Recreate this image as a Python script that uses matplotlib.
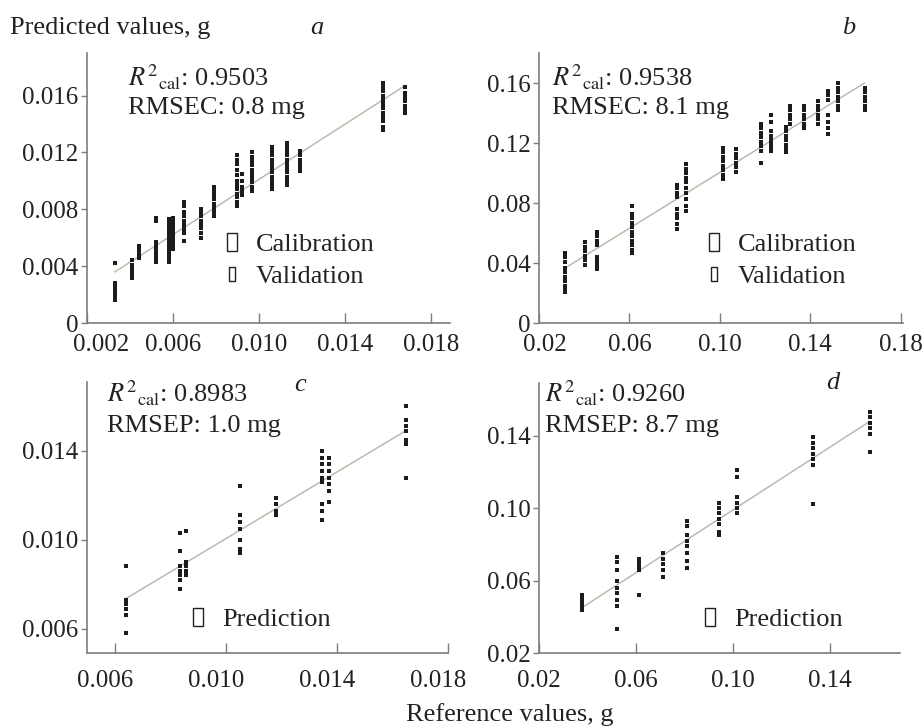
import numpy as np
import matplotlib
matplotlib.use('Agg')
import matplotlib.pyplot as plt
import matplotlib.transforms as mtransforms
from matplotlib.lines import Line2D

plt.rcParams['font.family'] = 'Liberation Serif'
plt.rcParams['mathtext.fontset'] = 'stix'

# ---- panel a: calibration/validation, small range (g)
a_ref = [0.0033, 0.0041, 0.0044, 0.0052, 0.0058, 0.0060, 0.0065, 0.0073,
         0.0079, 0.0090, 0.0092, 0.0097, 0.0106, 0.0113, 0.0119, 0.0158, 0.0168]
a_pred = [
    [0.0042, 0.0028, 0.0026, 0.0024, 0.0022, 0.0020, 0.0018, 0.0016],
    [0.0044, 0.0041, 0.0038, 0.0036, 0.0034, 0.0032],
    [0.0054, 0.0052, 0.0050, 0.0048, 0.0046],
    [0.0074, 0.0072, 0.0057, 0.0055, 0.0053, 0.0051, 0.0049, 0.0047, 0.0045, 0.0043],
    [0.0073, 0.0071, 0.0069, 0.0067, 0.0065, 0.0063, 0.0061, 0.0059, 0.0057,
     0.0055, 0.0053, 0.0051, 0.0049, 0.0047, 0.0045, 0.0043],
    [0.0074, 0.0072, 0.0070, 0.0068, 0.0066, 0.0064, 0.0062, 0.0060, 0.0058,
     0.0056, 0.0054, 0.0052],
    [0.0085, 0.0082, 0.0078, 0.0075, 0.0072, 0.0069, 0.0066, 0.0063, 0.0058],
    [0.0080, 0.0078, 0.0075, 0.0072, 0.0070, 0.0067, 0.0063, 0.0060],
    [0.0096, 0.0093, 0.0090, 0.0087, 0.0084, 0.0081, 0.0078, 0.0075],
    [0.0118, 0.0115, 0.0112, 0.0108, 0.0104, 0.0100, 0.0097, 0.0094, 0.0091,
     0.0089, 0.0085, 0.0082],
    [0.0105, 0.0100, 0.0096, 0.0093, 0.0090],
    [0.0120, 0.0117, 0.0114, 0.0111, 0.0108, 0.0105, 0.0102, 0.0099, 0.0096, 0.0093],
    [0.0124, 0.0121, 0.0118, 0.0115, 0.0112, 0.0109, 0.0106, 0.0103, 0.0100,
     0.0097, 0.0094],
    [0.0127, 0.0124, 0.0121, 0.0118, 0.0115, 0.0112, 0.0109, 0.0106, 0.0103,
     0.0100, 0.0097],
    [0.0121, 0.0118, 0.0115, 0.0112, 0.0109, 0.0107],
    [0.0169, 0.0166, 0.0163, 0.0160, 0.0157, 0.0154, 0.0151, 0.0148, 0.0145,
     0.0142, 0.0138, 0.0136],
    [0.0166, 0.0162, 0.0159, 0.0156, 0.0153, 0.0150, 0.0148],
]
a_fit_x = [0.0033, 0.0168]
a_fit_y = [0.0036, 0.0167]

# ---- panel b: calibration/validation, large range (g)
b_ref = [0.0316, 0.0404, 0.0458, 0.0613, 0.0809, 0.0849, 0.1013, 0.107, 0.118,
         0.1227, 0.1293, 0.131, 0.1373, 0.1436, 0.148, 0.1524, 0.164]
b_pred = [
    [0.047, 0.044, 0.041, 0.037, 0.034, 0.031, 0.028, 0.025, 0.023, 0.021],
    [0.054, 0.051, 0.048, 0.045, 0.042, 0.039],
    [0.061, 0.058, 0.055, 0.052, 0.044, 0.042, 0.040, 0.038, 0.036],
    [0.078, 0.073, 0.070, 0.067, 0.064, 0.061, 0.058, 0.055, 0.052, 0.049, 0.047],
    [0.092, 0.090, 0.087, 0.084, 0.076, 0.073, 0.070, 0.066, 0.063],
    [0.106, 0.103, 0.100, 0.097, 0.094, 0.090, 0.087, 0.083, 0.078, 0.075],
    [0.117, 0.114, 0.111, 0.108, 0.105, 0.102, 0.099, 0.096],
    [0.116, 0.113, 0.110, 0.107, 0.104, 0.101],
    [0.133, 0.130, 0.127, 0.124, 0.121, 0.118, 0.115, 0.107],
    [0.139, 0.134, 0.128, 0.125, 0.123, 0.121, 0.119, 0.117, 0.115],
    [0.131, 0.128, 0.125, 0.122, 0.119, 0.116, 0.114],
    [0.145, 0.142, 0.139, 0.136, 0.133],
    [0.145, 0.142, 0.139, 0.136, 0.133, 0.130],
    [0.148, 0.145, 0.142, 0.139, 0.136, 0.133],
    [0.155, 0.152, 0.149, 0.139, 0.134, 0.130, 0.126],
    [0.160, 0.157, 0.154, 0.151, 0.148, 0.145, 0.142],
    [0.157, 0.154, 0.151, 0.148, 0.145, 0.142],
]
b_fit_x = [0.0316, 0.164]
b_fit_y = [0.0367, 0.160]

# ---- panel c: prediction, small range
c_ref = [0.0064, 0.00836, 0.00857, 0.0105, 0.0118, 0.01346, 0.0137, 0.01647]
c_pred = [
    [0.0088, 0.0073, 0.0071, 0.0069, 0.0066, 0.0058],
    [0.0103, 0.0095, 0.0088, 0.0086, 0.0084, 0.0082, 0.0078],
    [0.0104, 0.0090, 0.0088, 0.0086, 0.0084],
    [0.0124, 0.0111, 0.0108, 0.0105, 0.0100, 0.0096, 0.0094],
    [0.0119, 0.0116, 0.0113, 0.0111],
    [0.0140, 0.0137, 0.0134, 0.0131, 0.0128, 0.0126, 0.0116, 0.0113, 0.0109],
    [0.0137, 0.0134, 0.0131, 0.0128, 0.0125, 0.0122, 0.0117],
    [0.0160, 0.0154, 0.0151, 0.0149, 0.0145, 0.0143, 0.0128],
]
c_fit_x = [0.0064, 0.01647]
c_fit_y = [0.00735, 0.0149]

# ---- panel d: prediction, large range
d_ref = [0.0377, 0.0522, 0.0612, 0.0711, 0.081, 0.0942, 0.1017, 0.133, 0.1565]
d_pred = [
    [0.052, 0.050, 0.048, 0.046, 0.044],
    [0.073, 0.070, 0.066, 0.060, 0.056, 0.053, 0.049, 0.046, 0.033],
    [0.072, 0.070, 0.068, 0.066, 0.052],
    [0.075, 0.072, 0.069, 0.066, 0.062],
    [0.093, 0.090, 0.085, 0.082, 0.079, 0.075, 0.071, 0.067],
    [0.103, 0.100, 0.097, 0.094, 0.091, 0.087, 0.085],
    [0.121, 0.117, 0.106, 0.103, 0.100, 0.097],
    [0.139, 0.136, 0.133, 0.130, 0.127, 0.124, 0.102],
    [0.153, 0.150, 0.147, 0.144, 0.141, 0.131],
]
d_fit_x = [0.0377, 0.1565]
d_fit_y = [0.045, 0.1478]

# tick values / labels
a_xticks = [0.002, 0.006, 0.010, 0.014, 0.018]
a_xlabels = ['0.002', '0.006', '0.010', '0.014', '0.018']
a_yticks = [0, 0.004, 0.008, 0.012, 0.016]
a_ylabels = ['0', '0.004', '0.008', '0.012', '0.016']
b_xticks = [0.02, 0.06, 0.10, 0.14, 0.18]
b_xlabels = ['0.02', '0.06', '0.10', '0.14', '0.18']
b_yticks = [0, 0.04, 0.08, 0.12, 0.16]
b_ylabels = ['0', '0.04', '0.08', '0.12', '0.16']
c_xticks = [0.006, 0.010, 0.014, 0.018]
c_xlabels = ['0.006', '0.010', '0.014', '0.018']
c_yticks = [0.006, 0.010, 0.014]
c_ylabels = ['0.006', '0.010', '0.014']
d_xticks = [0.02, 0.06, 0.10, 0.14]
d_xlabels = ['0.02', '0.06', '0.10', '0.14']
d_yticks = [0.02, 0.06, 0.10, 0.14]
d_ylabels = ['0.02', '0.06', '0.10', '0.14']

stats_a = [r'$R^2{}_{\rm cal}$: 0.9503', 'RMSEC: 0.8 mg']
stats_b = [r'$R^2{}_{\rm cal}$: 0.9538', 'RMSEC: 8.1 mg']
stats_c = [r'$R^2{}_{\rm cal}$: 0.8983', 'RMSEP: 1.0 mg']
stats_d = [r'$R^2{}_{\rm cal}$: 0.9260', 'RMSEP: 8.7 mg']

TXT = '#222222'
AX = '#7d7d7d'
FIT = '#b9bcae'
DOT = '#1c1c1c'

fig = plt.figure(figsize=(9.24, 7.28), dpi=100)


def panel(rect, ref, pred, fx, fy, xlim, ylim, xt, xl, yt, yl, xpad):
    ax = fig.add_axes(rect)
    xs = np.concatenate([[r] * len(p) for r, p in zip(ref, pred)])
    ys = np.concatenate(pred)
    ax.plot(fx, fy, color=FIT, lw=1.1, zorder=1)
    ax.scatter(xs, ys, marker='s', s=9, color=DOT, lw=0, zorder=2)
    ax.set_xlim(xlim)
    ax.set_ylim(ylim)
    ax.set_xticks(xt)
    ax.set_xticklabels(xl)
    ax.set_yticks(yt)
    ax.set_yticklabels(yl)
    for s in ['top', 'right']:
        ax.spines[s].set_visible(False)
    for s in ['left', 'bottom']:
        ax.spines[s].set_color(AX)
        ax.spines[s].set_linewidth(1.2)
    ax.tick_params(axis='x', direction='in', length=7, width=1, color=AX,
                   labelsize=18, labelcolor=TXT, pad=xpad)
    ax.tick_params(axis='y', direction='out', length=4, width=1, color=AX,
                   labelsize=18, labelcolor=TXT, pad=2)
    return ax


def shift_label(lab, dx):
    lab.set_transform(lab.get_transform() +
                      mtransforms.ScaledTranslation(dx / 100, 0, fig.dpi_scale_trans))


ax_a = panel([0.0942, 0.5563, 0.3929, 0.3709], a_ref, a_pred, a_fit_x, a_fit_y,
             (0.002, 0.0189), (0, 0.019), a_xticks, a_xlabels, a_yticks, a_ylabels, 8)
ax_b = panel([0.5833, 0.5563, 0.3939, 0.3709], b_ref, b_pred, b_fit_x, b_fit_y,
             (0.02, 0.181), (0, 0.18), b_xticks, b_xlabels, b_yticks, b_ylabels, 8)
ax_c = panel([0.0942, 0.1030, 0.3907, 0.3723], c_ref, c_pred, c_fit_x, c_fit_y,
             (0.005, 0.0179), (0.0049, 0.0171), c_xticks, c_xlabels, c_yticks, c_ylabels, 12)
ax_d = panel([0.5833, 0.1030, 0.3907, 0.3709], d_ref, d_pred, d_fit_x, d_fit_y,
             (0.02, 0.169), (0.02, 0.169), d_xticks, d_xlabels, d_yticks, d_ylabels, 12)

# label placement quirks of the original figure
shift_label(ax_a.get_xticklabels()[0], 14)
shift_label(ax_b.get_xticklabels()[0], 6)
for lab in ax_c.get_xticklabels():
    shift_label(lab, -10)


# statistics text (positions in pixels from top-left)
def ptext(x, y, s, **kw):
    fig.text(x / 924, 1 - y / 728, s, color=TXT, va='center', **kw)


for (x, y1, y2), st in zip([(128, 77, 108), (552, 77, 108), (107, 393, 426), (545, 393, 426)],
                           [stats_a, stats_b, stats_c, stats_d]):
    ptext(x, y1, st[0], fontsize=19)
    ptext(x, y2, st[1], fontsize=19)

ptext(10, 28, 'Predicted values, g', fontsize=19)
ptext(510, 715, 'Reference values, g', fontsize=19, ha='center')
for (x, y), lab in zip([(317, 28), (849, 28), (300, 385), (833, 383)], ['a', 'b', 'c', 'd']):
    ptext(x, y, lab, fontsize=19, style='italic', ha='center')

# legends with hollow box handles
big_box = [(-0.28, -0.5), (0.28, -0.5), (0.28, 0.5), (-0.28, 0.5), (-0.28, -0.5)]
small_box = [(-0.24, -0.5), (0.24, -0.5), (0.24, 0.5), (-0.24, 0.5), (-0.24, -0.5)]
h_cal = Line2D([], [], ls='none', marker=big_box, markersize=13, mfc='none', mec=TXT, mew=1)
h_val = Line2D([], [], ls='none', marker=small_box, markersize=9.5, mfc='none', mec=TXT, mew=1)
h_pre = Line2D([], [], ls='none', marker=big_box, markersize=13, mfc='none', mec=TXT, mew=1)

leg_kw = dict(frameon=False, fontsize=19, handlelength=1.0, handletextpad=0.4,
              labelspacing=0.3, borderpad=0, borderaxespad=0, loc='upper left',
              bbox_transform=fig.transFigure, labelcolor=TXT)
ax_a.legend([h_cal, h_val], ['Calibration', 'Validation'], bbox_to_anchor=(219 / 924, 1 - 233 / 728), **leg_kw)
ax_b.legend([h_cal, h_val], ['Calibration', 'Validation'], bbox_to_anchor=(701 / 924, 1 - 233 / 728), **leg_kw)
ax_c.legend([h_pre], ['Prediction'], bbox_to_anchor=(185 / 924, 1 - 608 / 728), **leg_kw)
ax_d.legend([h_pre], ['Prediction'], bbox_to_anchor=(697 / 924, 1 - 608 / 728), **leg_kw)

fig.savefig('out.png', dpi=100, facecolor='white')
